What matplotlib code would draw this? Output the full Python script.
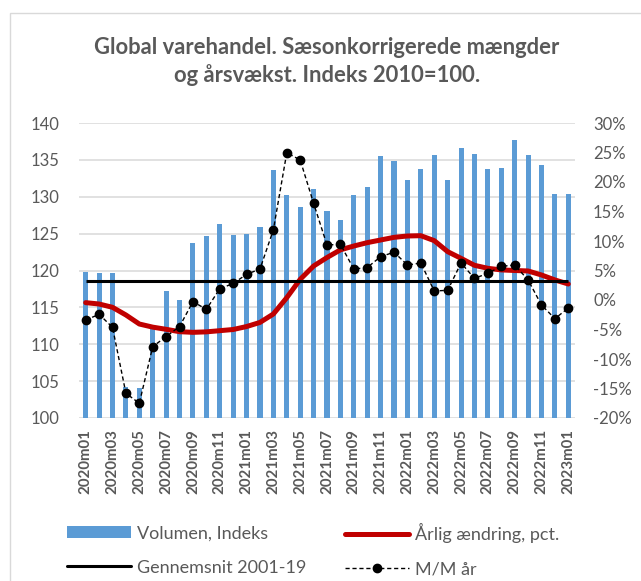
import numpy as np
import matplotlib
matplotlib.use("Agg")
import matplotlib.pyplot as plt
from matplotlib.patches import Rectangle
from matplotlib.lines import Line2D
from matplotlib.patches import Patch

plt.rcParams['font.family'] = ['Lato', 'DejaVu Sans']

months = [f"{y}m{m:02d}" for y in (2020, 2021, 2022) for m in range(1, 13)] + ["2023m01"]

volumen = [119.85, 119.67, 119.62, 104.22, 104.04, 112.2, 117.26, 116.0, 123.74, 124.65,
           126.37, 124.87, 124.96, 125.96, 133.61, 130.17, 128.59, 130.99, 128.13, 126.78,
           130.17, 131.35, 135.56, 134.84, 132.30, 133.80, 135.61, 132.21, 136.60, 135.74,
           133.75, 133.93, 137.74, 135.70, 134.29, 130.44, 130.31]

aarlig = [-0.45, -0.68, -1.24, -2.54, -4.07, -4.6, -4.97, -5.37, -5.48, -5.4,
          -5.2, -5.0, -4.5, -3.8, -2.37, 0.4, 3.5, 5.76, 7.2, 8.5,
          9.15, 9.72, 10.17, 10.62, 10.85, 10.9, 10.06, 8.2, 7.06, 5.88,
          5.37, 5.1, 5.0, 4.92, 4.24, 3.4, 2.71]

mm_aar = [-3.39, -2.43, -4.63, -15.82, -17.5, -7.9, -6.2, -4.5, -0.28, -1.58,
          1.9, 2.8, 4.35, 5.25, 11.9, 24.97, 23.73, 16.4, 9.32, 9.44,
          5.25, 5.5, 7.34, 8.1, 5.93, 6.27, 1.53, 1.64, 6.27, 3.67,
          4.52, 5.7, 5.93, 3.4, -0.85, -3.16, -1.36]

gennemsnit = 3.2

title = "Global varehandel. Sæsonkorrigerede mængder\nog årsvækst. Indeks 2010=100."
labels = ["Volumen, Indeks", "Årlig ændring, pct.", "Gennemsnit 2001-19", "M/M år"]

GRAY = '#595959'
BLUE = '#5B9BD5'
RED = '#C00000'

W, H = 641, 581
fig = plt.figure(figsize=(W / 100, H / 100), dpi=100)
fig.patches.append(Rectangle((10 / W, -0.1), 1.2, 1 - 13 / H + 0.1, transform=fig.transFigure,
                             fill=False, edgecolor='#D9D9D9', lw=1))

ax = fig.add_axes([79 / W, 1 - 418 / H, 496 / W, 295 / H])
x = np.arange(len(months))
ax.bar(x, volumen, width=0.38, color=BLUE, zorder=2)
ax.set_xlim(-0.5, len(months) - 0.5)
ax.set_ylim(100, 140)
ax.set_yticks(np.arange(100, 141, 5))
ax.yaxis.grid(True, color='#D9D9D9', lw=1.1)
ax.set_axisbelow(True)
for s in ax.spines.values():
    s.set_visible(False)
ax.set_xticks(x[::2])
ax.set_xticklabels(months[::2], rotation=90, fontweight='bold', color=GRAY, fontsize=10.8)
ax.tick_params(axis='x', length=0, pad=8)
ax.tick_params(axis='y', length=0, pad=14, labelcolor=GRAY, labelsize=12)

ax2 = ax.twinx()
ax2.set_ylim(-20, 30)
ax2.set_yticks(np.arange(-20, 31, 5))
ax2.set_yticklabels([f"{v}%" for v in range(-20, 31, 5)])
ax2.tick_params(axis='y', length=0, pad=13, labelcolor=GRAY, labelsize=12)
for s in ax2.spines.values():
    s.set_visible(False)

ax2.plot(x, aarlig, color=RED, lw=3.6, solid_joinstyle='round', solid_capstyle='round', zorder=3)
ax2.hlines(gennemsnit, x[0], x[-1], color='black', lw=2.2, zorder=4)
ax2.plot(x, mm_aar, color='black', lw=1.0, ls=(0, (3, 2)), marker='o', ms=6, zorder=5)

fig.text(0.51, 1 - 61.5 / H, title, ha='center', va='center', fontsize=15.8,
         fontweight='bold', color=GRAY, linespacing=1.38)

h_vol = Patch(facecolor=BLUE)
h_red = Line2D([], [], color=RED, lw=3.6, solid_capstyle='round')
h_blk = Line2D([], [], color='black', lw=2.2, solid_capstyle='round')
h_mm = Line2D([], [], color='black', lw=1.0, ls=(0, (3, 2)), marker='o', ms=6)

common = dict(loc='center left', frameon=False, fontsize=13, borderpad=0, borderaxespad=0,
              handlelength=3.55, handletextpad=0.3, labelspacing=1.0, numpoints=1,
              labelcolor=GRAY, handleheight=0.62)
fig.legend([h_vol, h_blk], [labels[0], labels[2]], bbox_to_anchor=(67 / W, 1 - 550.5 / H), **common)
fig.legend([h_red, h_mm], [labels[1], labels[3]], bbox_to_anchor=(345 / W, 1 - 550.5 / H), **common)

fig.savefig("out.png", dpi=100)
